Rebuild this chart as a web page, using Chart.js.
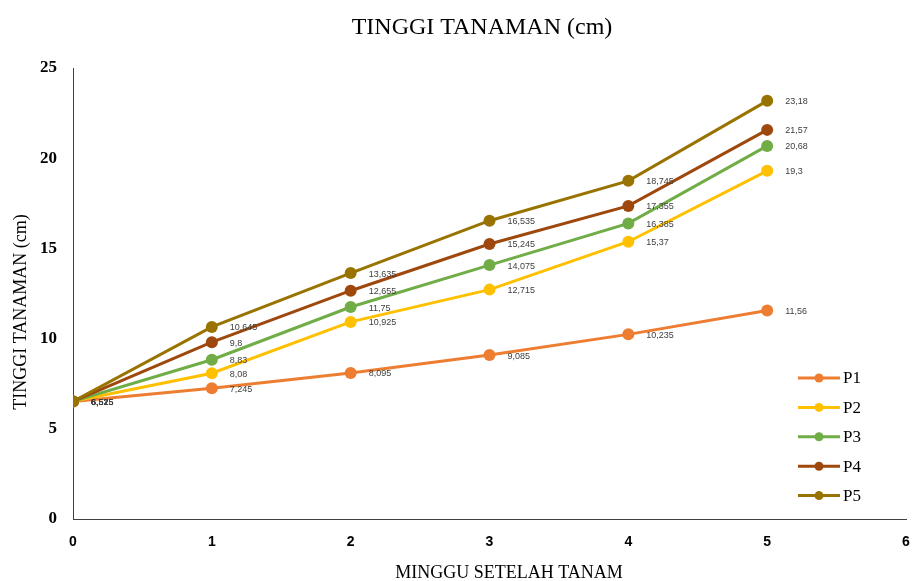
<!DOCTYPE html>
<html><head><meta charset="utf-8">
<script src="https://cdn.jsdelivr.net/npm/chart.js@4"></script>
<style>html,body{margin:0;padding:0;background:#fff}#wrap{width:912px;height:581px}</style>
</head><body><div id="wrap"><canvas id="c" width="912" height="581"></canvas></div>
<script>
const weeks = [0, 1, 2, 3, 4, 5];
const seriesNames = ['P1', 'P2', 'P3', 'P4', 'P5'];
const P1 = [6.515, 7.245, 8.095, 9.085, 10.235, 11.56];
const P2 = [6.52, 8.08, 10.925, 12.715, 15.37, 19.3];
const P3 = [6.525, 8.83, 11.75, 14.075, 16.385, 20.68];
const P4 = [6.515, 9.8, 12.655, 15.245, 17.355, 21.57];
const P5 = [6.52, 10.645, 13.635, 16.535, 18.745, 23.18];
const yTicks = [0, 5, 10, 15, 20, 25];
const xTicks = [0, 1, 2, 3, 4, 5, 6];
const chartTitle = 'TINGGI TANAMAN (cm)';
const xTitle = 'MINGGU SETELAH TANAM';
const yTitle = 'TINGGI TANAMAN (cm)';

const colors = ['#ED7D31', '#FFC000', '#70AD47', '#9E480E', '#997300'];
const allSeries = [P1, P2, P3, P4, P5];

const datasets = allSeries.map((vals, i) => ({
  label: seriesNames[i],
  data: weeks.map((w, j) => ({ x: w, y: vals[j] })),
  borderColor: colors[i],
  backgroundColor: colors[i],
  borderWidth: 3,
  pointRadius: 6,
  pointHoverRadius: 6,
  pointBorderWidth: 0,
  tension: 0,
  order: 5 - i
}));

const decor = {
  id: 'decor',
  afterDatasetsDraw(chart) {
    const ctx = chart.ctx;
    const xs = chart.scales.x, ys = chart.scales.y;
    ctx.save();
    // data labels
    ctx.font = '9px "Liberation Sans", Arial, sans-serif';
    ctx.fillStyle = '#404040';
    ctx.textAlign = 'left';
    ctx.textBaseline = 'middle';
    chart.data.datasets.forEach(ds => {
      ds.data.forEach(p => {
        const px = xs.getPixelForValue(p.x), py = ys.getPixelForValue(p.y);
        ctx.fillText(String(p.y).replace('.', ','), px + 18, py + 1);
      });
    });
    // title
    ctx.fillStyle = '#000';
    ctx.textAlign = 'center';
    ctx.font = '24px "Liberation Serif", "Times New Roman", serif';
    ctx.fillText(chartTitle, 482, 28);
    // x title
    ctx.font = '18px "Liberation Serif", "Times New Roman", serif';
    ctx.fillText(xTitle, 509, 573);
    // y title
    ctx.save();
    ctx.translate(21, 312);
    ctx.rotate(-Math.PI / 2);
    ctx.fillText(yTitle, 0, 0);
    ctx.restore();
    // legend
    chart.data.datasets.forEach((ds, i) => {
      const cy = 378 + i * 29.4;
      ctx.strokeStyle = ds.borderColor;
      ctx.lineWidth = 3;
      ctx.beginPath();
      ctx.moveTo(798, cy);
      ctx.lineTo(840, cy);
      ctx.stroke();
      ctx.fillStyle = ds.borderColor;
      ctx.beginPath();
      ctx.arc(819, cy, 4.5, 0, Math.PI * 2);
      ctx.fill();
      ctx.fillStyle = '#000';
      ctx.textAlign = 'left';
      ctx.font = '17px "Liberation Serif", "Times New Roman", serif';
      ctx.fillText(ds.label, 843, cy + 1);
    });
    ctx.restore();
  }
};

new Chart(document.getElementById('c'), {
  type: 'line',
  data: { datasets },
  options: {
    responsive: false,
    animation: false,
    devicePixelRatio: 1,
    layout: { padding: { top: 68, right: -3, left: 0, bottom: 0 } },
    plugins: { legend: { display: false }, title: { display: false }, tooltip: { enabled: false } },
    scales: {
      x: {
        type: 'linear', min: 0, max: 6,
        afterBuildTicks: s => { s.ticks = xTicks.map(v => ({ value: v })); },
        ticks: { color: '#000', padding: 15, font: { family: '"Liberation Sans", Arial, sans-serif', size: 14, weight: 'bold' } },
        grid: { display: true, drawOnChartArea: false, drawTicks: false },
        border: { display: true, color: '#404040', width: 1 },
        afterFit: s => { s.height = 62; s.paddingLeft = 0; s.paddingRight = 0; }
      },
      y: {
        type: 'linear', min: 0, max: 25,
        afterBuildTicks: s => { s.ticks = yTicks.map(v => ({ value: v })); },
        ticks: { color: '#000', padding: 16, font: { family: '"Liberation Serif", "Times New Roman", serif', size: 17, weight: 'bold' } },
        grid: { display: true, drawOnChartArea: false, drawTicks: false },
        border: { display: true, color: '#404040', width: 1 },
        afterFit: s => { s.width = 73; s.paddingTop = 0; s.paddingBottom = 0; }
      }
    }
  },
  plugins: [decor]
});
</script>
</body></html>
